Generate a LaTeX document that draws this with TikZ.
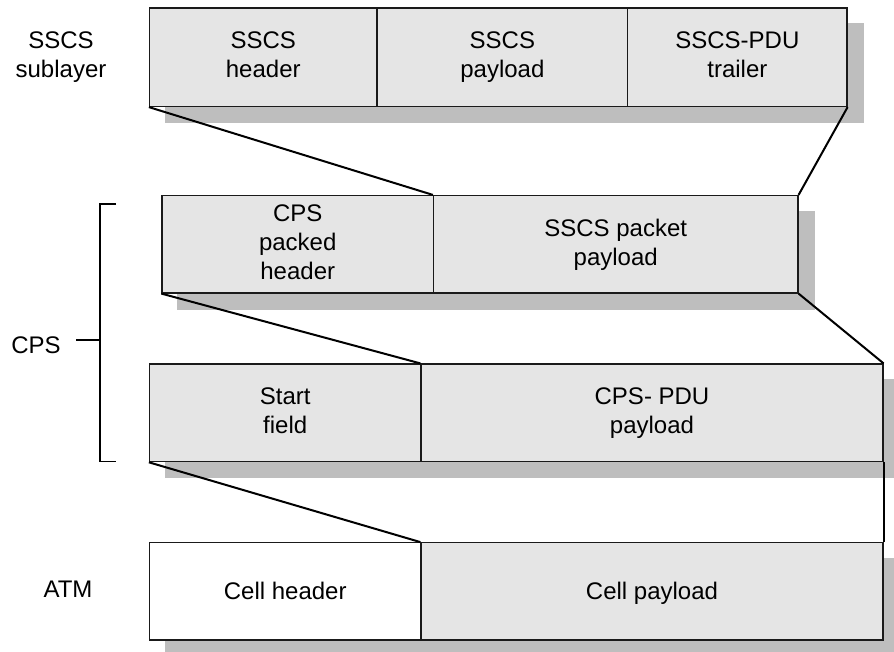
\documentclass[tikz,border=0pt]{standalone}
\usepackage{fontspec}
\setmainfont{Liberation Sans}
\usetikzlibrary{fit,backgrounds}
\definecolor{cellfill}{HTML}{E5E5E5}
\definecolor{shadowgray}{HTML}{BEBEBE}
\definecolor{inkline}{HTML}{1A1A1A}
\begin{document}
\begin{tikzpicture}[x=0.75pt,y=-0.75pt,
  font=\fontsize{18}{21.75}\selectfont,
  cell/.style={draw=inkline, line width=0.9pt, fill=cellfill, inner sep=0pt},
  blank/.style={cell, fill=white},
  txt/.style={align=center, inner sep=0pt, yshift=-1.5pt,
    execute at begin node=\strut, execute at end node=\strut},
  link/.style={draw=black, line width=1.5pt},
  thin/.style={draw=black, line width=0.9pt},
  side/.style={txt}]
\useasboundingbox (0,0) rectangle (894,651);

% SSCS sublayer row
\node[cell, fit={(149.5,8) (377,106.5)}] (r1a) {};
\node[cell, fit={(377,8) (627.7,106.5)}] (r1b) {};
\node[cell, fit={(627.7,8) (847,106.5)}] (r1c) {};

% CPS packet row
\node[cell, fit={(162,195.5) (433.5,293)}] (r2a) {};
\node[cell, fit={(433.5,195.5) (798,293)}] (r2b) {};

% CPS-PDU row
\node[cell, fit={(149.5,364) (421,461.7)}] (r3a) {};
\node[cell, fit={(421,364) (883,461.7)}] (r3b) {};

% ATM cell row
\node[blank, fit={(149.5,542.7) (421,640)}] (r4a) {};
\node[cell, fit={(421,542.7) (883,640)}] (r4b) {};

% field names
\node[txt] (t1a) at (r1a.center) {SSCS\\header};
\node[txt] (t1b) at (r1b.center) {SSCS\\payload};
\node[txt] (t1c) at (r1c.center) {SSCS-PDU\\trailer};
\node[txt] (t2a) at (r2a.center) {CPS\\packed\\header};
\node[txt] (t2b) at (r2b.center) {SSCS packet\\payload};
\node[txt] (t3a) at (r3a.center) {Start\\field};
\node[txt] (t3b) at (r3b.center) {CPS- PDU\\payload};
\node[txt] (t4a) at (r4a.center) {Cell header};
\node[txt] (t4b) at (r4b.center) {Cell payload};

% drop shadows under each row
\begin{scope}[on background layer]
  \clip (0,0) rectangle (894,651);
  \fill[shadowgray] ([shift={(16,16)}]r1a.north west) rectangle ([shift={(16,16)}]r1c.south east);
  \fill[shadowgray] ([shift={(16,16)}]r2a.north west) rectangle ([shift={(16,16)}]r2b.south east);
  \fill[shadowgray] ([shift={(16,16)}]r3a.north west) rectangle ([shift={(16,16)}]r3b.south east);
  \fill[shadowgray] ([shift={(16,16)}]r4a.north west) rectangle ([shift={(16,16)}]r4b.south east);
\end{scope}

% mapping lines between rows
\draw[link] (r1a.south west) -- (r2b.north west);
\draw[link] (r1c.south east) -- (r2b.north east);
\draw[link] (r2a.south west) -- (r3b.north west);
\draw[link] (r2b.south east) -- (r3b.north east);
\draw[link] (r3a.south west) -- (r4b.north west);
\draw[link] (r3b.south east) -- (r4b.north east);

% layer labels
\node[side] (lsscs) at (61,57) {SSCS\\sublayer};
\node[side] (lcps) at (36,346) {CPS};
\node[side] (latm) at (68,590) {ATM};

% CPS bracket
\coordinate (btop) at (116,204);
\coordinate (bbot) at (116,461.7);
\coordinate (bmid) at (100,340);
\coordinate (cpstick) at (76,340);
\draw[thin] (btop) -- (100,204) -- (100,461.7) -- (bbot);
\draw[thin] (cpstick) -- (bmid);
\end{tikzpicture}
\end{document}
